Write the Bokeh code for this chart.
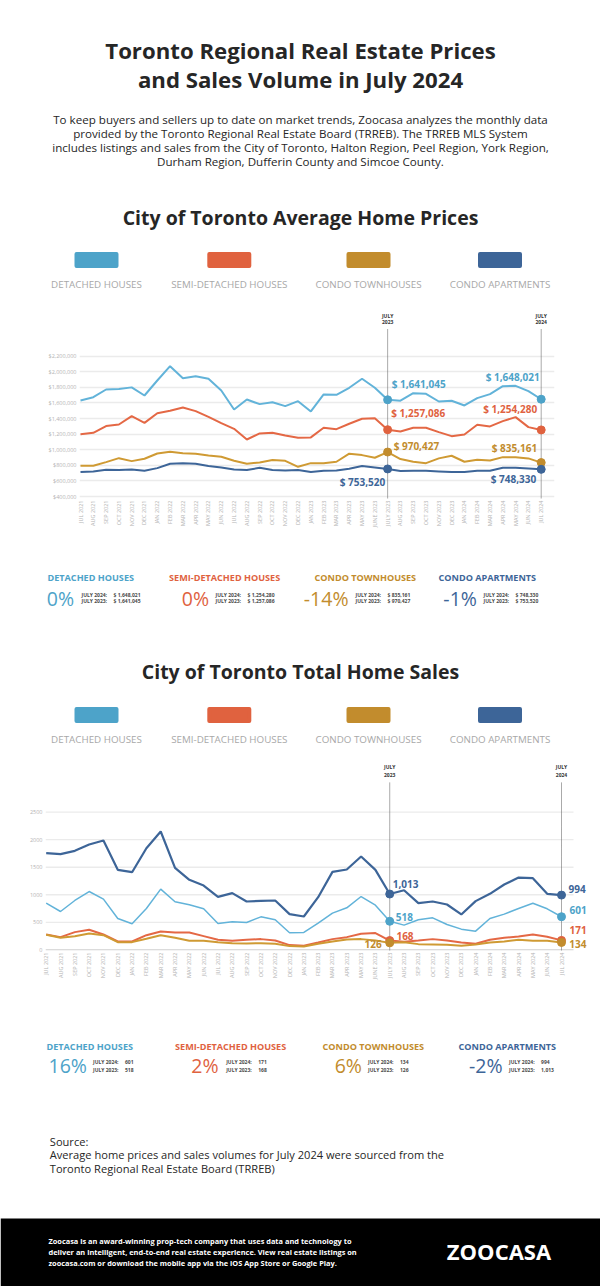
import math
from bokeh.plotting import figure
from bokeh.layouts import column
from bokeh.models import Range1d, FixedTicker, NumeralTickFormatter, Label
from bokeh.core.properties import value
from bokeh.embed import file_html
from bokeh.resources import INLINE

# ---------------- data ----------------
months = ["JUL 2021", "AUG 2021", "SEP 2021", "OCT 2021", "NOV 2021", "DEC 2021",
          "JAN 2022", "FEB 2022", "MAR 2022", "APR 2022", "MAY 2022", "JUN 2022",
          "JUL 2022", "AUG 2022", "SEP 2022", "OCT 2022", "NOV 2022", "DEC 2022",
          "JAN 2023", "FEB 2023", "MAR 2023", "APR 2023", "MAY 2023", "JUNE 2023",
          "JULY 2023", "AUG 2023", "SEP 2023", "OCT 2023", "NOV 2023", "DEC 2023",
          "JAN 2024", "FEB 2024", "MAR 2024", "APR 2024", "MAY 2024", "JUN 2024",
          "JUL 2024"]

series_names = ["DETACHED HOUSES", "SEMI-DETACHED HOUSES", "CONDO TOWNHOUSES", "CONDO APARTMENTS"]

price_detached = [1632000, 1674000, 1773000, 1780000, 1800000, 1696000, 1888000, 2072000, 1918000,
                  1944000, 1910000, 1760000, 1516000, 1644000, 1585000, 1610000, 1560000, 1623000,
                  1491000, 1709000, 1705000, 1795000, 1910000, 1795000, 1641045, 1630000, 1726000,
                  1718000, 1619000, 1628000, 1568000, 1662000, 1713000, 1815000, 1820000, 1751000,
                  1648021]
price_semi = [1200000, 1217000, 1303000, 1324000, 1431000, 1345000, 1469000, 1499000, 1542000,
              1495000, 1422000, 1341000, 1268000, 1131000, 1209000, 1217000, 1183000, 1153000,
              1158000, 1282000, 1264000, 1333000, 1397000, 1405000, 1257086, 1235000, 1282000,
              1282000, 1226000, 1174000, 1196000, 1320000, 1299000, 1367000, 1418000, 1290000,
              1254280]
price_townhouse = [794000, 794000, 841000, 892000, 854000, 884000, 952000, 973000, 956000,
                   948000, 927000, 910000, 858000, 820000, 837000, 867000, 858000, 781000,
                   828000, 828000, 846000, 949000, 931000, 897000, 970427, 880000, 846000,
                   828000, 889000, 923000, 846000, 872000, 863000, 905000, 905000, 889000,
                   835161]
price_apartment = [713000, 721000, 743000, 739000, 747000, 730000, 764000, 820000, 828000,
                   820000, 790000, 773000, 747000, 739000, 768000, 739000, 735000, 739000,
                   713000, 730000, 734000, 756000, 790000, 773000, 753520, 726000, 730000,
                   730000, 722000, 713000, 713000, 730000, 730000, 769000, 769000, 760000,
                   748330]

sales_detached = [847, 696, 896, 1059, 920, 569, 472, 750, 1102, 872, 817, 745, 478, 508, 496, 599,
                  545, 309, 315, 484, 666, 763, 968, 811, 518, 448, 545, 581, 460, 375, 339, 569,
                  648, 751, 847, 745, 601]
sales_semi = [278, 230, 321, 363, 278, 151, 151, 266, 333, 315, 315, 248, 182, 163, 182, 194, 169,
              85, 73, 133, 194, 230, 290, 303, 168, 145, 169, 194, 169, 133, 109, 182, 218, 242,
              278, 236, 171]
sales_townhouse = [272, 218, 248, 297, 266, 139, 139, 200, 266, 218, 163, 163, 139, 121, 115, 121,
                   109, 67, 61, 109, 151, 188, 194, 169, 126, 139, 103, 97, 91, 73, 97, 133, 151,
                   182, 163, 163, 134]
sales_apartment = [1755, 1737, 1798, 1913, 1985, 1453, 1410, 1846, 2149, 1489, 1271, 1168, 962,
                   1029, 878, 890, 896, 648, 605, 956, 1416, 1459, 1695, 1453, 1013, 1083, 847,
                   878, 823, 642, 884, 1017, 1186, 1313, 1301, 1017, 994]

price_ticks = [400000, 600000, 800000, 1000000, 1200000, 1400000, 1600000, 1800000, 2000000, 2200000]
sales_ticks = [0, 500, 1000, 1500, 2000, 2500]

title_lines = ["Toronto Regional Real Estate Prices", "and Sales Volume in July 2024"]
intro_lines = ["To keep buyers and sellers up to date on market trends, Zoocasa analyzes the monthly data",
               "provided by the Toronto Regional Real Estate Board (TRREB). The TRREB MLS System",
               "includes listings and sales from the City of Toronto, Halton Region, Peel Region, York Region,",
               "Durham Region, Dufferin County and Simcoe County."]
price_title = "City of Toronto Average Home Prices"
sales_title = "City of Toronto Total Home Sales"
source_lines = ["Source:",
                "Average home prices and sales volumes for July 2024 were sourced from the",
                "Toronto Regional Real Estate Board (TRREB)"]
footer_lines = ["Zoocasa is an award-winning prop-tech company that uses data and technology to",
                "deliver an intelligent, end-to-end real estate experience. View real estate listings on",
                "zoocasa.com or download the mobile app via the iOS App Store or Google Play."]
logo_text = "ZOOCASA"

# ---------------- style ----------------
FONT = "Open Sans"
W = 600
COLORS = ["#4DA3C9", "#E0623F", "#C28C2D", "#3D6598"]
LINE_COLORS = ["#62B3D9", "#E46845", "#CF9A33", "#3D6598"]
DARK = "#262626"
LEGEND_GREY = "#A8A8A8"
TICK_GREY = "#B3B3B3"
GRID = "#EBEBEB"

prices = [price_detached, price_semi, price_townhouse, price_apartment]
sales = [sales_detached, sales_semi, sales_townhouse, sales_apartment]
I23 = months.index("JULY 2023")
I24 = months.index("JUL 2024")
idx = list(range(len(months)))


def text_fig(h):
    p = figure(width=W, height=h, x_range=Range1d(0, W), y_range=Range1d(h, 0),
               output_backend="svg", toolbar_location=None, min_border=0,
               x_axis_type=None, y_axis_type=None, frame_align=False)
    p.grid.visible = False
    p.outline_line_color = None
    return p


def put(p, x, y, s, size, color, align="left", bold=False):
    p.text(x=[x], y=[y], text=[s], text_font=value(FONT), text_font_size=value(f"{size}px"),
           text_color=color, text_align=align, text_baseline="middle",
           text_font_style="bold" if bold else "normal")


def legend(p, y_sw, y_lab, centers):
    p.rect(x=centers, y=[y_sw] * 4, width=40, height=12, fill_color=COLORS, line_color=COLORS,
           line_width=4, line_join="round")
    for c, name in zip(centers, series_names):
        put(p, c, y_lab, name, 9.8, LEGEND_GREY, align="center")


def stats(p, y_lab, y_pct, y_small, lab_x, pct_r, small_x, data, money):
    for i, name in enumerate(series_names):
        v23, v24 = data[i][I23], data[i][I24]
        pct = round((v24 - v23) / v23 * 100)
        put(p, lab_x[i], y_lab, name, 9.1, COLORS[i], bold=True)
        put(p, pct_r[i], y_pct, f"{pct}%", 19.5, COLORS[i], align="right")
        fmt = (lambda v: f"$ {v:,}") if money else (lambda v: f"{v:,}")
        for k, (lab, v) in enumerate([("JULY 2024:", v24), ("JULY 2023:", v23)]):
            put(p, small_x[i], y_small[k], lab, 5, "#4A4A4A", bold=True)
            put(p, small_x[i] + 32, y_small[k], fmt(v), 5, "#4A4A4A", bold=True)


def style_chart(p, ticks, fmt):
    p.outline_line_color = None
    p.xgrid.visible = False
    p.yaxis.ticker = FixedTicker(ticks=ticks)
    p.ygrid.ticker = FixedTicker(ticks=ticks)
    p.ygrid.grid_line_color = GRID
    p.ygrid.grid_line_width = 1.3
    if fmt:
        p.yaxis.formatter = NumeralTickFormatter(format=fmt)
    for ax in (p.xaxis, p.yaxis):
        ax.major_tick_line_color = None
        ax.minor_tick_line_color = None
        ax.major_tick_out = 0
        ax.major_tick_in = 0
        ax.major_label_text_font = FONT
        ax.major_label_text_font_size = "5.5px"
        ax.major_label_text_color = TICK_GREY
    p.yaxis.axis_line_color = None
    p.yaxis.major_label_standoff = 3
    p.xaxis.axis_line_color = None
    p.xaxis.ticker = FixedTicker(ticks=idx)
    p.xaxis.major_label_overrides = {i: m for i, m in enumerate(months)}
    p.xaxis.major_label_orientation = math.pi / 2
    p.xaxis.major_label_standoff = 2


def add_label(p, x, y, text, dx, dy, align, color):
    p.add_layout(Label(x=x, y=y, text=text, x_offset=dx, y_offset=dy, text_align=align,
                       text_baseline="middle", text_font=FONT, text_font_size="10px",
                       text_font_style="bold", text_color=color))


def july_marks(p, y_line_top, y_july, y_year, y_bottom):
    for i, yr in ((I23, "2023"), (I24, "2024")):
        p.segment(x0=[i], y0=[y_bottom], x1=[i], y1=[y_line_top], line_color="#555555",
                  line_width=1, line_dash="1 1")
        for yy, s in ((y_july, "JULY"), (y_year, yr)):
            p.text(x=[i], y=[yy], text=[s], text_font=value(FONT), text_font_size=value("5px"),
                   text_font_style="bold", text_color="#333333", text_align="center",
                   text_baseline="middle")


# ---------------- header (page y 0-300) ----------------
hdr = text_fig(300)
for k, line in enumerate(title_lines):
    put(hdr, 300, 50 + k * 29.3, line, 22.2, DARK, align="center", bold=True)
for k, line in enumerate(intro_lines):
    put(hdr, 300, 119.3 + k * 14, line, 11.6, DARK, align="center")
put(hdr, 300, 216.8, price_title, 19.5, DARK, align="center", bold=True)
legend_centers = [96, 228.8, 368, 499.5]
legend(hdr, 259.5, 284, legend_centers)

# ---------------- price chart (page y 300-545) ----------------
PK = 1.8e6 / 140.3          # dollars per pixel
def pval(page_y):
    return 400000 + (496 - page_y) * PK

MP = (540.7 - 80) / 36       # pixels per month
px0 = -(80 - 79) / MP
pp = figure(width=W, height=245, output_backend="svg", toolbar_location=None, frame_align=False,
            x_range=Range1d(px0, px0 + (554 - 79) / MP), y_range=Range1d(pval(498), pval(302)),
            min_border_left=79, min_border_right=W - 554, min_border_top=2, min_border_bottom=47)
style_chart(pp, price_ticks, "$0,0")
july_marks(pp, pval(328), pval(315), pval(321.7), pval(498))
for i in range(4):
    pp.line(idx, prices[i], line_color=LINE_COLORS[i], line_width=2)
    pp.scatter([I23, I24], [prices[i][I23], prices[i][I24]], size=8, color=COLORS[i])

price_offsets = [((4, 16, "left"), (-1.5, 22.7, "right")),
                 ((3.6, 17, "left"), (-4, 21, "right")),
                 ((6, 6.3, "left"), (-4, 14.3, "right")),
                 ((-2.4, -12.7, "right"), (-5, -9.6, "right"))]
for i in range(4):
    for j, ii in enumerate((I23, I24)):
        dx, dy, al = price_offsets[i][j]
        add_label(pp, ii, prices[i][ii], f"$ {prices[i][ii]:,}", dx, dy, al, COLORS[i])

# ---------------- price stats + sales header (page y 545-760) ----------------
mid = text_fig(215)
stats(mid, 31.8, 52.5, (49.6, 55.4), [47, 168.6, 314, 438], [73.6, 208.6, 348, 476.4],
      [81, 215, 355, 483], prices, True)
put(mid, 300, 126.4, sales_title, 19.5, DARK, align="center", bold=True)
legend(mid, 169.6, 194, legend_centers)

# ---------------- sales chart (page y 760-995) ----------------
SK = 2500 / 137.6
def sval(page_y):
    return (949.3 - page_y) * SK

MS = (561 - 45.7) / 36
sx0 = -(45.7 - 45) / MS
SX_RIGHT = 592
sp = figure(width=W, height=235, output_backend="svg", toolbar_location=None, frame_align=False,
            x_range=Range1d(sx0, sx0 + (SX_RIGHT - 45) / MS), y_range=Range1d(sval(950), sval(761)),
            min_border_left=45, min_border_right=W - SX_RIGHT, min_border_top=1, min_border_bottom=45)
style_chart(sp, sales_ticks, None)
sp.ygrid.visible = False
# grid lines stop short of the frame so the end labels have room
grid_end = sx0 + (573 - 45) / MS
sp.segment(x0=[sx0] * len(sales_ticks), x1=[grid_end] * len(sales_ticks), y0=sales_ticks,
           y1=sales_ticks, line_color=[("#CFCFCF" if t == 0 else GRID) for t in sales_ticks],
           line_width=1.3)
july_marks(sp, sval(781.7), sval(766.7), sval(774.3), sval(950))
sales_widths = [1.5, 2, 2, 2.2]
for i in range(4):
    sp.line(idx, sales[i], line_color=LINE_COLORS[i], line_width=sales_widths[i])
    sp.scatter([I23, I24], [sales[i][I23], sales[i][I24]], size=8, color=COLORS[i])

sales_offsets = [((6, 4.7, "left"), (8, 6.4, "left")),
                 ((6.7, 5, "left"), (8, 10.3, "left")),
                 ((-8, -0.7, "right"), (7.7, -1.7, "left")),
                 ((3, 10.3, "left"), (7, 6.3, "left"))]
for i in range(4):
    for j, ii in enumerate((I23, I24)):
        dx, dy, al = sales_offsets[i][j]
        add_label(sp, ii, sales[i][ii], f"{sales[i][ii]:,}", dx, dy, al, COLORS[i])

# ---------------- sales stats + source + footer (page y 995-1286) ----------------
bot = text_fig(291)
stats(bot, 51.4, 70, (66, 74), [46, 174.6, 322, 458], [86.4, 218, 361.4, 502],
      [92.5, 225.7, 367.5, 508.6], sales, False)
for k, line in enumerate(source_lines):
    put(bot, 49.3, 145.7 + k * 13.5, line, 11.1, DARK)
bot.quad(left=[0], right=[W], top=[223], bottom=[291], fill_color="black", line_color=None)
for k, line in enumerate(footer_lines):
    put(bot, 48, 245 + k * 11, line, 7.4, "white", bold=True)
put(bot, 498.5, 255, logo_text, 22, "white", align="center", bold=True)

layout = column(hdr, pp, mid, sp, bot, spacing=0)
open("out.html", "w").write(file_html(layout, INLINE))
